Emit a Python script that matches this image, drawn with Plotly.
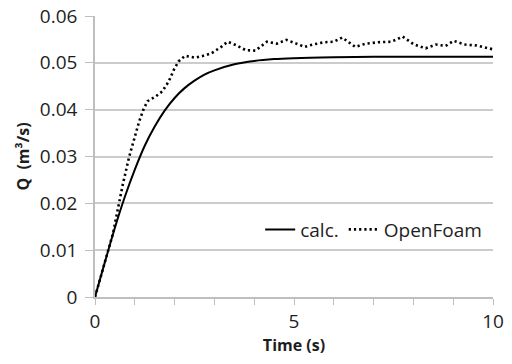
import plotly.graph_objects as go

# Tiempo (s) y caudal calculado Q (m3/s)
t_calc = [0, 0.25, 0.5, 0.75, 1.0, 1.25, 1.5, 1.75, 2.0, 2.25, 2.5, 2.75,
          3.0, 3.5, 4.0, 4.5, 5.0, 6.0, 7.0, 8.0, 9.0, 10.0]
q_calc = [0, 0.0075, 0.0148, 0.0214, 0.0272, 0.0323, 0.0364, 0.0398, 0.0425,
          0.0446, 0.0462, 0.0475, 0.0484, 0.0497, 0.0504, 0.0508, 0.0510,
          0.0512, 0.0513, 0.0513, 0.0513, 0.0513]

# Resultado OpenFoam
t_of = [0, 0.25, 0.45, 0.70, 0.86, 1.11, 1.23, 1.32, 1.52, 1.69, 1.85, 1.98,
        2.10, 2.26, 2.51, 2.72, 2.92, 3.17, 3.33, 3.54, 3.79, 4.03, 4.32,
        4.57, 4.81, 5.06, 5.27, 5.47, 5.76, 6.00, 6.21, 6.54, 6.80, 7.12,
        7.45, 7.73, 8.02, 8.31, 8.56, 8.81, 9.01, 9.30, 9.59, 9.99]
q_of = [0, 0.0078, 0.0135, 0.0241, 0.0300, 0.0375, 0.0403, 0.0418, 0.0428,
        0.0439, 0.0460, 0.0485, 0.0503, 0.0515, 0.0511, 0.0515, 0.0520,
        0.0534, 0.0545, 0.0538, 0.0527, 0.0526, 0.0545, 0.0541, 0.0549,
        0.0541, 0.0534, 0.0539, 0.0544, 0.0545, 0.0554, 0.0534, 0.0541,
        0.0544, 0.0545, 0.0556, 0.0539, 0.0531, 0.0539, 0.0536, 0.0547,
        0.0539, 0.0537, 0.0529]

y_ticks = [0, 0.01, 0.02, 0.03, 0.04, 0.05, 0.06]
y_labels = ["0", "0.01", "0.02", "0.03", "0.04", "0.05", "0.06"]

fuente = "Open Sans"
gris = "#bfbfbf"

fig = go.Figure()
fig.add_trace(go.Scatter(x=t_calc, y=q_calc, mode="lines", name="calc.",
                         line=dict(color="black", width=2, shape="spline")))
fig.add_trace(go.Scatter(x=t_of, y=q_of, mode="lines", name="OpenFoam",
                         line=dict(color="black", width=2.6, dash="2.2px,3px")))

# la página tiene 8 px de margen en el body: figura 496x348 para que no haya scroll
fig.update_layout(
    width=496, height=348,
    margin=dict(l=87, r=11, t=8, b=59),
    plot_bgcolor="white", paper_bgcolor="white",
    font=dict(family=fuente, size=19, color="#1e1e1e"),
    showlegend=True,
    legend=dict(x=0.415, y=0.24, xanchor="left", yanchor="middle",
                orientation="h", bgcolor="rgba(0,0,0,0)",
                font=dict(size=19), itemwidth=30, tracegroupgap=0),
    xaxis=dict(
        range=[0, 10], dtick=5, tick0=0, automargin=False,
        ticklabeloverflow="allow",
        showgrid=False, zeroline=False,
        showline=True, linecolor=gris, linewidth=1.5,
        ticks="outside", ticklen=6, tickcolor=gris,
        minor=dict(dtick=1, ticks="outside", ticklen=6, tickcolor=gris),
        title=dict(text="<b>Time (s)</b>", font=dict(size=16), standoff=10),
    ),
    yaxis=dict(
        range=[0, 0.06], tickmode="array", tickvals=y_ticks, ticktext=y_labels,
        automargin=False, ticklabeloverflow="allow",
        showgrid=True, gridcolor="#cccccc", gridwidth=1.5,
        zeroline=False,
        showline=True, linecolor=gris, linewidth=1.5,
        ticks="outside", ticklen=8, tickcolor=gris, ticklabelstandoff=4,
        title=dict(text="<b>Q  (m³/s)</b>", font=dict(size=16), standoff=6),
    ),
)

fig.write_html("out.html")
